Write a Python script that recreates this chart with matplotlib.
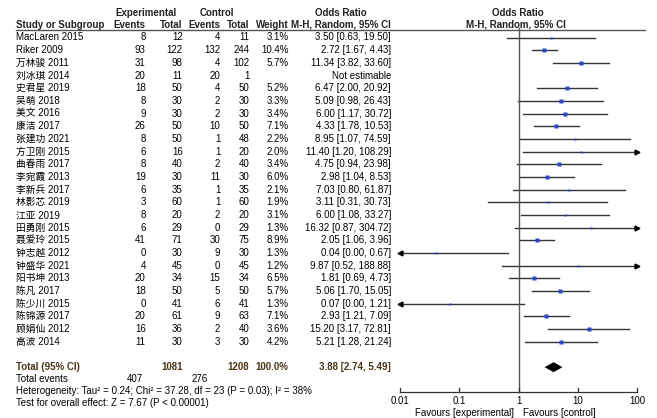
import matplotlib
matplotlib.use("Agg")
import matplotlib.pyplot as plt

plt.rcParams['font.family'] = ['Liberation Sans', 'Noto Sans CJK SC', 'DejaVu Sans']

studies = ["MacLaren 2015", "Riker 2009", "万林骏 2011", "刘冰琪 2014", "史君星 2019",
           "吴萌 2018", "美文 2016", "康洁 2017", "张建功 2021", "方卫刚 2015",
           "曲春雨 2017", "李宛霞 2013", "李新兵 2017", "林影芯 2019", "江亚 2019",
           "田勇刚 2015", "聂爱玲 2015", "钟志越 2012", "钟盛华 2021", "阳书坤 2013",
           "陈凡 2017", "陈少川 2015", "陈锦源 2017", "顾娟仙 2012", "高波 2014"]
exp_events = [8, 93, 31, 20, 18, 8, 9, 26, 8, 6, 8, 19, 6, 3, 8, 6, 41, 0, 4, 20, 18, 0, 20, 16, 11]
exp_total = [12, 122, 98, 11, 50, 30, 30, 50, 50, 16, 40, 30, 35, 60, 20, 29, 71, 30, 45, 34, 50, 41, 61, 36, 30]
ctl_events = [4, 132, 4, 20, 4, 2, 2, 10, 1, 1, 2, 11, 1, 1, 2, 0, 30, 9, 0, 15, 5, 6, 9, 2, 3]
ctl_total = [11, 244, 102, 1, 50, 30, 30, 50, 48, 20, 40, 30, 35, 60, 20, 29, 75, 30, 45, 34, 50, 41, 63, 40, 30]
weights = [3.1, 10.4, 5.7, None, 5.2, 3.3, 3.4, 7.1, 2.2, 2.0, 3.4, 6.0, 2.1, 1.9, 3.1,
           1.3, 8.9, 1.3, 1.2, 6.5, 5.7, 1.3, 7.1, 3.6, 4.2]
odds = [3.50, 2.72, 11.34, None, 6.47, 5.09, 6.00, 4.33, 8.95, 11.40, 4.75, 2.98, 7.03, 3.11,
        6.00, 16.32, 2.05, 0.04, 9.87, 1.81, 5.06, 0.07, 2.93, 15.20, 5.21]
ci_low = [0.63, 1.67, 3.82, None, 2.00, 0.98, 1.17, 1.78, 1.07, 1.20, 0.94, 1.04, 0.80, 0.31,
          1.08, 0.87, 1.06, 0.00, 0.52, 0.69, 1.70, 0.00, 1.21, 3.17, 1.28]
ci_high = [19.50, 4.43, 33.60, None, 20.92, 26.43, 30.72, 10.53, 74.59, 108.29, 23.98, 8.53,
           61.87, 30.73, 33.27, 304.72, 3.96, 0.67, 188.88, 4.73, 15.05, 1.21, 7.09, 72.81, 21.24]
total_or = (3.88, 2.74, 5.49)
total_n = (1081, 1208)
total_ev = (407, 276)
ticks = [0.01, 0.1, 1, 10, 100]
tick_labels = ["0.01", "0.1", "1", "10", "100"]

W, H = 657, 418
fig = plt.figure(figsize=(W / 100, H / 100), dpi=100)
ax = fig.add_axes([0, 0, 1, 1])
ax.set_xlim(0, W)
ax.set_ylim(H, 0)
ax.axis('off')

fx = fig.add_axes([400 / W, 0, 237.3 / W, 1])
fx.set_xscale('log')
fx.set_xlim(0.01, 100)
fx.set_ylim(H, 0)
fx.axis('off')

fs = 7
hc = '#222222'
brown = '#4a3418'

def row_y(i):
    return 37.5 + 12.68 * i

# header
ax.text(146, 12.5, "Experimental", ha='center', va='center', fontsize=fs, fontweight='bold', color=hc)
ax.text(217, 12.5, "Control", ha='center', va='center', fontsize=fs, fontweight='bold', color=hc)
ax.text(341, 12.5, "Odds Ratio", ha='center', va='center', fontsize=fs, fontweight='bold', color=hc)
ax.text(518, 12.5, "Odds Ratio", ha='center', va='center', fontsize=fs, fontweight='bold', color=hc)
hy = 24.5
ax.text(16.5, hy, "Study or Subgroup", ha='left', va='center', fontsize=fs, fontweight='bold', color=hc)
for x, s in [(145.7, "Events"), (182.7, "Total"), (220.3, "Events"), (249.3, "Total"), (288.7, "Weight")]:
    ax.text(x, hy, s, ha='right', va='center', fontsize=fs, fontweight='bold', color=hc)
ax.text(341, hy, "M-H, Random, 95% CI", ha='center', va='center', fontsize=fs, fontweight='bold', color=hc)
ax.text(516, hy, "M-H, Random, 95% CI", ha='center', va='center', fontsize=fs, fontweight='bold', color=hc)
ax.plot([16, 645], [30, 30], color='#555555', lw=1.0)

# study rows
for i, name in enumerate(studies):
    y = row_y(i)
    ax.text(16.5, y, name, ha='left', va='center', fontsize=fs, color='black')
    ax.text(145.7, y, str(exp_events[i]), ha='right', va='center', fontsize=fs)
    ax.text(182.7, y, str(exp_total[i]), ha='right', va='center', fontsize=fs)
    ax.text(220.3, y, str(ctl_events[i]), ha='right', va='center', fontsize=fs)
    ax.text(249.3, y, str(ctl_total[i]), ha='right', va='center', fontsize=fs)
    if weights[i] is None:
        ax.text(391, y, "Not estimable", ha='right', va='center', fontsize=fs)
        continue
    ax.text(288.7, y, "%.1f%%" % weights[i], ha='right', va='center', fontsize=fs)
    ax.text(391, y, "%.2f [%.2f, %.2f]" % (odds[i], ci_low[i], ci_high[i]),
            ha='right', va='center', fontsize=fs)
    lo = max(ci_low[i], 0.01)
    hi = min(ci_high[i], 100)
    fx.plot([lo, hi], [y, y], color='#333333', lw=1.0, clip_on=False)
    if ci_high[i] > 100:
        fx.plot([100], [y], marker='>', ms=3.5, color='black', clip_on=False)
    if ci_low[i] < 0.01:
        fx.plot([0.01], [y], marker='<', ms=3.5, color='black', clip_on=False)
    side = 1.0 * weights[i] ** 0.5 + 1.2
    fx.plot([odds[i]], [y], marker='s', ms=side * 0.72, color='#2a48c8', mec='none', clip_on=False)

# totals
ty = row_y(26)
ax.text(16.5, ty, "Total (95% CI)", ha='left', va='center', fontsize=fs, fontweight='bold', color=brown)
ax.text(182.7, ty, str(total_n[0]), ha='right', va='center', fontsize=fs, fontweight='bold', color=brown)
ax.text(249.3, ty, str(total_n[1]), ha='right', va='center', fontsize=fs, fontweight='bold', color=brown)
ax.text(288.7, ty, "100.0%", ha='right', va='center', fontsize=fs, fontweight='bold', color=brown)
ax.text(391, ty, "%.2f [%.2f, %.2f]" % total_or, ha='right', va='center', fontsize=fs,
        fontweight='bold', color=brown)
m, l, h = total_or
fx.fill([l, m, h, m], [ty, ty - 5, ty, ty + 5], color='black', lw=0)

ey = 379.5
ax.text(16.5, ey, "Total events", ha='left', va='center', fontsize=fs)
ax.text(143.3, ey, str(total_ev[0]), ha='right', va='center', fontsize=fs)
ax.text(208.3, ey, str(total_ev[1]), ha='right', va='center', fontsize=fs)
ax.text(16.5, 391.3, "Heterogeneity: Tau² = 0.24; Chi² = 37.28, df = 23 (P = 0.03); I² = 38%",
        ha='left', va='center', fontsize=fs)
ax.text(16.5, 403, "Test for overall effect: Z = 7.67 (P < 0.00001)", ha='left', va='center', fontsize=fs)

# forest axis
axy = 391.7
fx.plot([1, 1], [27.5, axy], color='#555555', lw=1.0, clip_on=False)
fx.plot([0.01, 100], [axy, axy], color='#333333', lw=0.9, clip_on=False)
for t, lab in zip(ticks, tick_labels):
    fx.plot([t, t], [axy - 4, axy + 0.5], color='#333333', lw=0.9, clip_on=False)
    fx.text(t, 401, lab, ha='center', va='center', fontsize=fs)
fx.text(0.83, 413, "Favours [experimental]", ha='right', va='center', fontsize=fs)
fx.text(1.2, 413, "Favours [control]", ha='left', va='center', fontsize=fs)

fig.savefig("out.png", dpi=100)
